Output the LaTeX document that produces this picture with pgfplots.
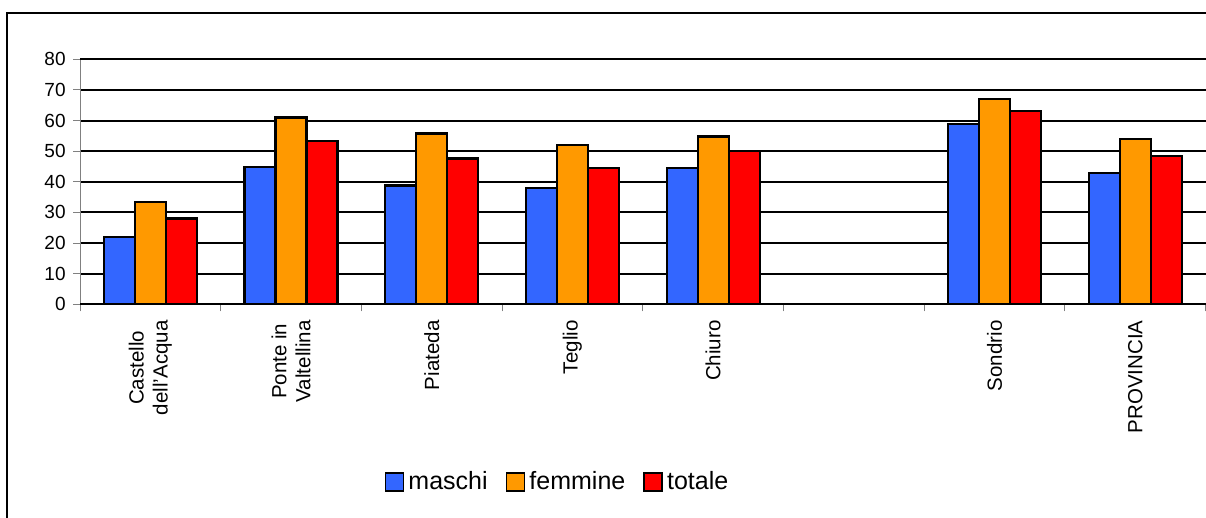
\documentclass[border=0pt]{standalone}
\usepackage{pgfplots}
\pgfplotsset{compat=1.18}
\usepackage{fontspec}
\setmainfont{Liberation Sans}
\definecolor{cblue}{HTML}{3366FF}
\definecolor{corange}{HTML}{FF9900}
\definecolor{cred}{HTML}{FF0000}
\definecolor{axgray}{HTML}{808080}
\pgfplotsset{mylegend/.style={legend image code/.code={\draw[##1,line width=0.9pt] (0pt,-4.5pt) rectangle (9pt,4.5pt);}}}
\begin{document}
\begin{tikzpicture}
\useasboundingbox (0,0) rectangle (603pt,-259pt);
\fill[white] (0,0) rectangle (603pt,-259pt);
\draw[black, line width=0.6pt] (3.5pt,-6.5pt) rectangle (620pt,-280pt);
\begin{axis}[
  at={(40pt,-152.15pt)}, anchor=south west,
  scale only axis, width=562.8pt, height=122.5pt,
  xmin=-0.5, xmax=7.5, ymin=0, ymax=80,
  axis x line*=bottom, axis y line*=left,
  axis line style={axgray, line width=0.5pt},
  ybar=0pt, bar width=15.5pt,
  ytick={10,20,...,70},
  extra y ticks={0,80},
  extra y tick style={grid style={gray!45, line width=0.5pt}},
  ymajorgrids, major grid style={black, line width=1pt},
  xtick={-0.5,0.5,...,7.5}, xticklabels={},
  extra x ticks={0,1,2,3,4,6,7},
  extra x tick labels={{Castello\\dell'Acqua},{Ponte in\\Valtellina},Piateda,Teglio,Chiuro,Sondrio,PROVINCIA},
  extra x tick style={major tick length=0pt, grid=none,
    xticklabel style={rotate=90, anchor=east, align=center, inner sep=0pt,
      font=\fontsize{10.25}{12}\selectfont, xshift=-7.9pt}},
  tick align=outside, major tick length=3.5pt,
  tick style={axgray, line width=0.5pt},
  yticklabel style={font=\fontsize{9.5}{11}\selectfont, inner sep=0pt, xshift=-3.5pt},
  /pgf/number format/assume math mode=true,
  legend style={at={(axis description cs:0.4251,-0.724)}, anchor=center, draw=none,
    legend columns=3, font=\fontsize{12.5}{15}\selectfont,
    /tikz/every even column/.append style={column sep=7pt}},
  legend cell align=left,
]
\addplot[mylegend, fill=cblue, draw=black, line width=1.1pt] coordinates {(0,22.1) (1,44.8) (2,38.8) (3,37.9) (4,44.5) (6,58.8) (7,42.8)};
\addplot[mylegend, fill=corange, draw=black, line width=1.1pt] coordinates {(0,33.3) (1,61.0) (2,55.8) (3,52.1) (4,54.8) (6,67.1) (7,54.1)};
\addplot[mylegend, fill=cred, draw=black, line width=1.1pt] coordinates {(0,28.0) (1,53.2) (2,47.6) (3,44.5) (4,50.0) (6,63.1) (7,48.4)};
\legend{maschi,femmine,totale}
\end{axis}
\end{tikzpicture}
\end{document}
